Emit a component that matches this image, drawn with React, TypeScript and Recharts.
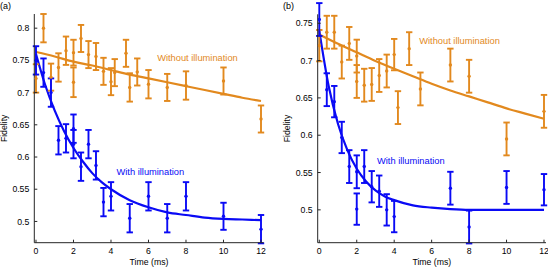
import React from 'react';
import { ComposedChart, Line, Scatter, ErrorBar, XAxis, YAxis, ReferenceDot, Label } from 'recharts';

const ORANGE = '#E2891E';
const BLUE = '#0A0AF5';
const AXIS = '#262626';
const FONT = '"Liberation Sans", Arial, Helvetica, sans-serif';

// ---------- shared ticks ----------
const timeTicks = [0, 2, 4, 6, 8, 10, 12];
const fidelityTicksA = [0.5, 0.55, 0.6, 0.65, 0.7, 0.75, 0.8];
const fidelityTicksB = [0.5, 0.55, 0.6, 0.65, 0.7, 0.75];

// ---------- panel (a) measurements ----------
const timesOrangeA = [0, 0.4, 0.8, 1.2, 1.6, 2.0, 2.0, 2.4, 2.8, 3.2, 3.6, 4.0, 4.2, 4.8, 5.0, 5.4, 6, 7, 8, 10, 12];
const fidOrangeA = [0.722, 0.8, 0.724, 0.739, 0.765, 0.762, 0.716, 0.784, 0.759, 0.756, 0.733, 0.717, 0.731, 0.761, 0.708, 0.732, 0.713, 0.708, 0.711, 0.718, 0.659];
const errOrangeA = [0.022, 0.022, 0.021, 0.022, 0.022, 0.02, 0.023, 0.021, 0.021, 0.021, 0.021, 0.021, 0.021, 0.021, 0.022, 0.021, 0.022, 0.021, 0.022, 0.021, 0.021];

const timesBlueA = [0, 0.4, 0.8, 1.2, 1.6, 2.0, 2.0, 2.4, 2.8, 3.2, 3.6, 4.0, 5, 6, 7, 8, 10, 12];
const fidBlueA = [0.75, 0.731, 0.7, 0.626, 0.629, 0.644, 0.62, 0.585, 0.62, 0.587, 0.53, 0.539, 0.505, 0.539, 0.505, 0.539, 0.508, 0.488];
const errBlueA = [0.022, 0.022, 0.022, 0.022, 0.022, 0.022, 0.022, 0.022, 0.022, 0.022, 0.022, 0.022, 0.022, 0.022, 0.022, 0.022, 0.021, 0.022];

const fitTimesOrangeA = [0, 1, 2, 3, 4, 5, 6, 7, 8, 9, 10, 11, 12];
const fitOrangeA = [0.763, 0.756, 0.748, 0.742, 0.735, 0.728, 0.722, 0.716, 0.71, 0.704, 0.698, 0.692, 0.687];
const fitTimesBlueA = [0, 0.5, 1, 1.5, 2, 2.5, 3, 3.5, 4, 5, 6, 7, 8, 9, 10, 11, 12];
const fitBlueA = [0.76, 0.711, 0.672, 0.64, 0.614, 0.593, 0.575, 0.561, 0.55, 0.533, 0.522, 0.514, 0.51, 0.506, 0.504, 0.503, 0.502];

// ---------- panel (b) measurements ----------
const timesOrangeB = [0, 0.4, 0.8, 1.2, 1.6, 2.0, 2.0, 2.4, 2.8, 3.2, 3.6, 4.0, 4.2, 4.8, 5.4, 7, 8, 10, 12];
const fidOrangeB = [0.72, 0.738, 0.738, 0.698, 0.723, 0.706, 0.672, 0.667, 0.668, 0.68, 0.686, 0.708, 0.637, 0.716, 0.662, 0.694, 0.679, 0.595, 0.632];
const errOrangeB = [0.021, 0.022, 0.022, 0.022, 0.022, 0.022, 0.022, 0.022, 0.022, 0.022, 0.022, 0.021, 0.022, 0.022, 0.022, 0.022, 0.022, 0.022, 0.022];

const timesBlueB = [0, 0.4, 0.8, 1.2, 1.6, 2.0, 2.0, 2.4, 2.8, 3.2, 3.6, 4.0, 7, 8, 10, 12];
const fidBlueB = [0.755, 0.661, 0.645, 0.597, 0.558, 0.551, 0.501, 0.558, 0.531, 0.525, 0.5, 0.491, 0.529, 0.477, 0.53, 0.527];
const errBlueB = [0.022, 0.022, 0.021, 0.021, 0.022, 0.022, 0.021, 0.022, 0.021, 0.021, 0.021, 0.021, 0.022, 0.022, 0.022, 0.021];

const fitTimesOrangeB = [0, 1, 2, 3, 4, 5, 6, 7, 8, 9, 10, 11, 12];
const fitOrangeB = [0.735, 0.7225, 0.711, 0.6995, 0.689, 0.679, 0.669, 0.66, 0.652, 0.644, 0.636, 0.629, 0.622];
const fitTimesBlueB = [0, 0.5, 1, 1.5, 2, 2.5, 3, 3.5, 4, 5, 6, 7, 8, 10, 12];
const fitBlueB = [0.74, 0.666, 0.615, 0.58, 0.555, 0.538, 0.526, 0.518, 0.513, 0.506, 0.503, 0.501, 0.5, 0.5, 0.5];

const zipPts = (ts: number[], vs: number[], es: number[]) => ts.map((t, i) => ({ t, v: vs[i], err: es[i] }));
const zipFit = (ts: number[], vs: number[]) => ts.map((t, i) => ({ t, v: vs[i] }));

const fmt = (v: number) => String(+v.toFixed(2));

const makeDot = (color: string) => (props: any) => (
  <circle cx={props.cx} cy={props.cy} r={1.7} fill={color} stroke="none" />
);

const TimeLabel = (props: any) => {
  const vb = props.viewBox || {};
  return (
    <text x={vb.x + vb.width / 2} y={vb.y + vb.height - 2.3} textAnchor="middle" fontSize={8.7} fontFamily={FONT} fill="#000">
      Time (ms)
    </text>
  );
};

const makeFidelityLabel = (off: number) => (props: any) => {
  const vb = props.viewBox || {};
  const cx = vb.x + off;
  const cy = vb.y + vb.height / 2;
  return (
    <text x={cx} y={cy} transform={`rotate(-90 ${cx} ${cy})`} textAnchor="middle" dominantBaseline="central" fontSize={8.7} fontFamily={FONT} fill="#000">
      Fidelity
    </text>
  );
};

const makeAnnot = (text: string, color: string) => (props: any) => {
  const vb = props.viewBox || {};
  const cx = vb.x + (vb.width || 0) / 2;
  const cy = vb.y + (vb.height || 0) / 2;
  return (
    <text x={cx} y={cy} textAnchor="middle" dominantBaseline="central" fontSize={9.3} fontFamily={FONT} fill={color}>
      {text}
    </text>
  );
};

type PanelCfg = {
  top: number;
  right: number;
  yWidth: number;
  xDomain: [number, number];
  yDomain: [number, number];
  yTicks: number[];
  fidOff: number;
  orangePts: any[];
  bluePts: any[];
  orangeFit: any[];
  blueFit: any[];
  annotOrange: [number, number];
  annotBlue: [number, number];
};

function Panel({ c }: { c: PanelCfg }) {
  const tickStyle = { fontSize: 8.7, fill: '#000', fontFamily: FONT };
  return (
    <ComposedChart width={274} height={267} margin={{ top: c.top, right: c.right, bottom: 0, left: 0 }}>
      <XAxis xAxisId="b" type="number" dataKey="t" domain={c.xDomain} allowDataOverflow ticks={timeTicks} interval={0}
        tickSize={-3} tickMargin={8.6} height={24.3} stroke={AXIS} tick={tickStyle}>
        <Label content={TimeLabel} />
      </XAxis>
      <XAxis xAxisId="t" orientation="top" type="number" dataKey="t" domain={c.xDomain} allowDataOverflow ticks={timeTicks}
        interval={0} tick={false} tickSize={-3} height={0} stroke={AXIS} />
      <YAxis yAxisId="l" type="number" dataKey="v" domain={c.yDomain} allowDataOverflow ticks={c.yTicks} interval={0}
        tickSize={-3} tickMargin={8} width={c.yWidth} stroke={AXIS} tick={tickStyle} tickFormatter={fmt}>
        <Label content={makeFidelityLabel(c.fidOff)} />
      </YAxis>
      <YAxis yAxisId="r" orientation="right" type="number" dataKey="v" domain={c.yDomain} allowDataOverflow ticks={c.yTicks}
        interval={0} tick={false} tickSize={-3} width={0} stroke={AXIS} />

      <Line xAxisId="b" yAxisId="l" data={c.orangeFit} dataKey="v" type="monotone" stroke={ORANGE} strokeWidth={2.2}
        dot={false} activeDot={false} isAnimationActive={false} />
      <Line xAxisId="b" yAxisId="l" data={c.blueFit} dataKey="v" type="monotone" stroke={BLUE} strokeWidth={2.2}
        dot={false} activeDot={false} isAnimationActive={false} />

      <Scatter xAxisId="b" yAxisId="l" data={c.orangePts} dataKey="v" fill={ORANGE} shape={makeDot(ORANGE)} isAnimationActive={false}>
        <ErrorBar dataKey="err" direction="y" width={3.2} stroke={ORANGE} strokeWidth={1.9} isAnimationActive={false} />
      </Scatter>
      <Scatter xAxisId="b" yAxisId="l" data={c.bluePts} dataKey="v" fill={BLUE} shape={makeDot(BLUE)} isAnimationActive={false}>
        <ErrorBar dataKey="err" direction="y" width={3.2} stroke={BLUE} strokeWidth={1.9} isAnimationActive={false} />
      </Scatter>

      <ReferenceDot xAxisId="b" yAxisId="l" x={c.annotOrange[0]} y={c.annotOrange[1]} r={0} fill="none" stroke="none">
        <Label content={makeAnnot('Without illumination', ORANGE)} />
      </ReferenceDot>
      <ReferenceDot xAxisId="b" yAxisId="l" x={c.annotBlue[0]} y={c.annotBlue[1]} r={0} fill="none" stroke="none">
        <Label content={makeAnnot('With illumination', BLUE)} />
      </ReferenceDot>
    </ComposedChart>
  );
}

const panelA: PanelCfg = {
  top: 14,
  right: 10.3,
  yWidth: 34.3,
  xDomain: [-0.09, 12.144],
  yDomain: [0.467, 0.822],
  yTicks: fidelityTicksA,
  fidOff: 4.2,
  orangePts: zipPts(timesOrangeA, fidOrangeA, errOrangeA),
  bluePts: zipPts(timesBlueA, fidBlueA, errBlueA),
  orangeFit: zipFit(fitTimesOrangeA, fitOrangeA),
  blueFit: zipFit(fitTimesBlueA, fitBlueA),
  annotOrange: [8.61, 0.754],
  annotBlue: [6.1, 0.577],
};

const panelB: PanelCfg = {
  top: 14.3,
  right: 2,
  yWidth: 43.7,
  xDomain: [-0.085, 12.107],
  yDomain: [0.456, 0.762],
  yTicks: fidelityTicksB,
  fidOff: 12.7,
  orangePts: zipPts(timesOrangeB, fidOrangeB, errOrangeB),
  bluePts: zipPts(timesBlueB, fidBlueB, errBlueB),
  orangeFit: zipFit(fitTimesOrangeB, fitOrangeB),
  blueFit: zipFit(fitTimesBlueB, fitBlueB),
  annotOrange: [7.49, 0.7267],
  annotBlue: [4.89, 0.5658],
};

export default function App() {
  const panelLabel: React.CSSProperties = {
    position: 'absolute', top: 0, fontFamily: FONT, fontSize: 9, lineHeight: '12px', color: '#000',
  };
  return (
    <div style={{ position: 'absolute', left: 0, top: 0, width: 548, height: 267, background: '#fff', overflow: 'hidden' }}>
      <div style={{ position: 'absolute', left: 0, top: 0 }}>
        <Panel c={panelA} />
      </div>
      <div style={{ position: 'absolute', left: 274, top: 0 }}>
        <Panel c={panelB} />
      </div>
      <span style={{ ...panelLabel, left: 0 }}>(a)</span>
      <span style={{ ...panelLabel, left: 283 }}>(b)</span>
    </div>
  );
}
